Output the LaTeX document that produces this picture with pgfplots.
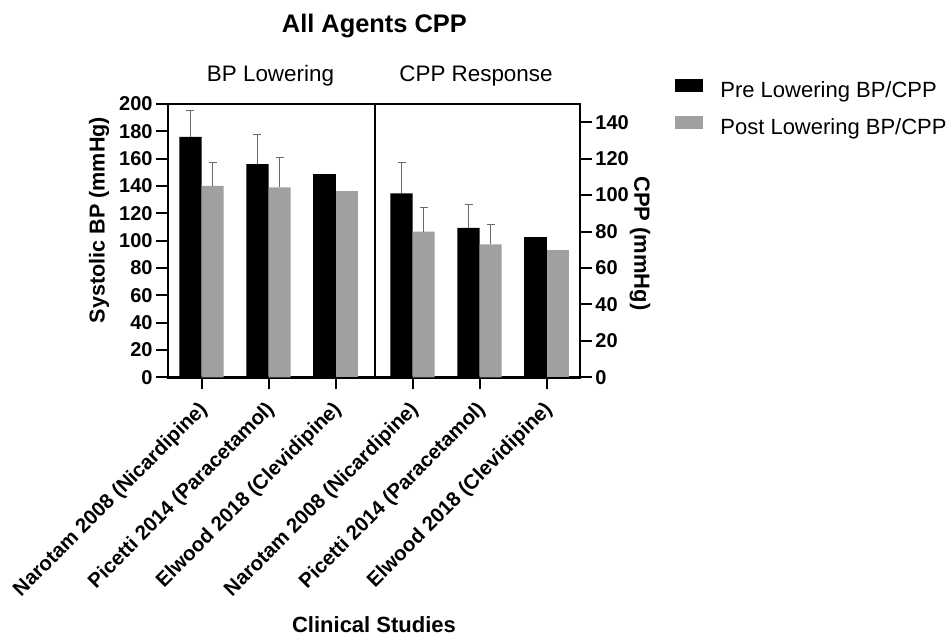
\documentclass[border=0pt]{standalone}
\usepackage{fontspec}
\setmainfont{Liberation Sans}
\usepackage{pgfplots}
\pgfplotsset{compat=1.18}
\definecolor{postgray}{RGB}{160,160,160}
\definecolor{errgray}{RGB}{105,105,105}
\begin{document}
\begin{tikzpicture}
\path[use as bounding box] (0,0) rectangle (476pt,318.5pt);
\begin{axis}[
  at={(84pt,129.85pt)}, anchor=south west,
  scale only axis, width=206pt, height=136.65pt,
  clip=false,
  xmin=0, xmax=6.149, ymin=0, ymax=200,
  axis line style={line width=1.25pt},
  tick style={line width=1pt, black},
  tick align=outside, major tick length=6pt,
  ytick={0,20,...,200}, ytick pos=left,
  xtick={0.5,1.5,2.5,3.65,4.65,5.65}, xtick pos=bottom,
  xticklabels={Narotam 2008 (Nicardipine), Picetti 2014 (Paracetamol), Elwood 2018 (Clevidipine), Narotam 2008 (Nicardipine), Picetti 2014 (Paracetamol), Elwood 2018 (Clevidipine)},
  /pgf/number format/assume math mode=true,
  yticklabel style={inner sep=1.5pt, font=\bfseries\fontsize{10}{12}\selectfont},
  xticklabel style={inner sep=0pt, xshift=1.5pt, yshift=-8.5pt, rotate=45, anchor=east, font=\bfseries\fontsize{10.2}{12}\selectfont},
  ylabel={Systolic BP (mmHg)},
  ylabel style={at={(axis description cs:-0.1675,0.575)}, anchor=center, font=\bfseries\fontsize{10.8}{13}\selectfont},
  xlabel={Clinical Studies},
  xlabel style={at={(axis description cs:0.5,-0.9356)}, anchor=base, font=\bfseries\fontsize{11}{13}\selectfont},
  legend style={at={(1.2306,1.0915)}, anchor=north west, draw=none, fill=none, inner sep=0pt, row sep=7pt, column sep=8.5pt, nodes={inner sep=0pt, text height=8pt, text depth=2.5pt, font=\fontsize{11}{13}\selectfont}},
  legend cell align=left,
  legend image code/.code={\fill[#1] (0pt,-0.25pt) rectangle (14pt,6.25pt);},
]
% BP lowering group (left axis)
\addplot[ybar, bar width=0.33, bar shift=0pt, fill=black, draw=none,
  error bars/.cd, y dir=plus, y explicit, error bar style={line width=0.8pt, errgray}]
  coordinates {(0.335,176) +- (0,19) (1.335,156) +- (0,22)};
\addlegendentry{Pre Lowering BP/CPP}
\addplot[ybar, bar width=0.33, bar shift=0pt, fill=postgray, draw=none,
  error bars/.cd, y dir=plus, y explicit, error bar style={line width=0.8pt, errgray}]
  coordinates {(0.665,140) +- (0,17) (1.665,139) +- (0,22)};
\addlegendentry{Post Lowering BP/CPP}
\addplot[ybar, bar width=0.33, bar shift=0pt, fill=black, draw=none, forget plot]
  coordinates {(2.335,149)};
\addplot[ybar, bar width=0.33, bar shift=0pt, fill=postgray, draw=none, forget plot]
  coordinates {(2.665,136)};
\draw[line width=1pt] (axis cs:3.082,0) -- (axis cs:3.082,200);
\node[anchor=base, font=\bfseries\fontsize{12.7}{15}\selectfont] at (rel axis cs:0.501,1.2634) {All Agents CPP};
\node[anchor=base, font=\fontsize{11.2}{13}\selectfont] at (rel axis cs:0.2488,1.0805) {BP Lowering};
\node[anchor=base, font=\fontsize{11.2}{13}\selectfont] at (rel axis cs:0.7476,1.0805) {CPP Response};
\end{axis}
\begin{axis}[
  at={(84pt,129.85pt)}, anchor=south west,
  scale only axis, width=206pt, height=136.65pt,
  clip=false,
  xmin=0, xmax=6.149, ymin=0, ymax=150,
  axis x line=none, axis y line*=right,
  axis line style={line width=1.25pt},
  tick style={line width=1pt, black},
  tick align=outside, major tick length=6pt,
  ytick={0,20,...,140},
  /pgf/number format/assume math mode=true,
  yticklabel style={inner sep=1.5pt, font=\bfseries\fontsize{10}{12}\selectfont},
  ylabel={CPP (mmHg)},
  ylabel style={at={(axis description cs:1.1456,0.49)}, anchor=center, rotate=180, font=\bfseries\fontsize{11}{13}\selectfont},
]
% CPP response group (right axis)
\addplot[ybar, bar width=0.33, bar shift=0pt, fill=black, draw=none,
  error bars/.cd, y dir=plus, y explicit, error bar style={line width=0.8pt, errgray}]
  coordinates {(3.485,101) +- (0,17) (4.485,82) +- (0,13)};
\addplot[ybar, bar width=0.33, bar shift=0pt, fill=postgray, draw=none,
  error bars/.cd, y dir=plus, y explicit, error bar style={line width=0.8pt, errgray}]
  coordinates {(3.815,80) +- (0,13) (4.815,73) +- (0,11)};
\addplot[ybar, bar width=0.33, bar shift=0pt, fill=black, draw=none]
  coordinates {(5.485,77)};
\addplot[ybar, bar width=0.33, bar shift=0pt, fill=postgray, draw=none]
  coordinates {(5.815,70)};
\end{axis}
\end{tikzpicture}
\end{document}
